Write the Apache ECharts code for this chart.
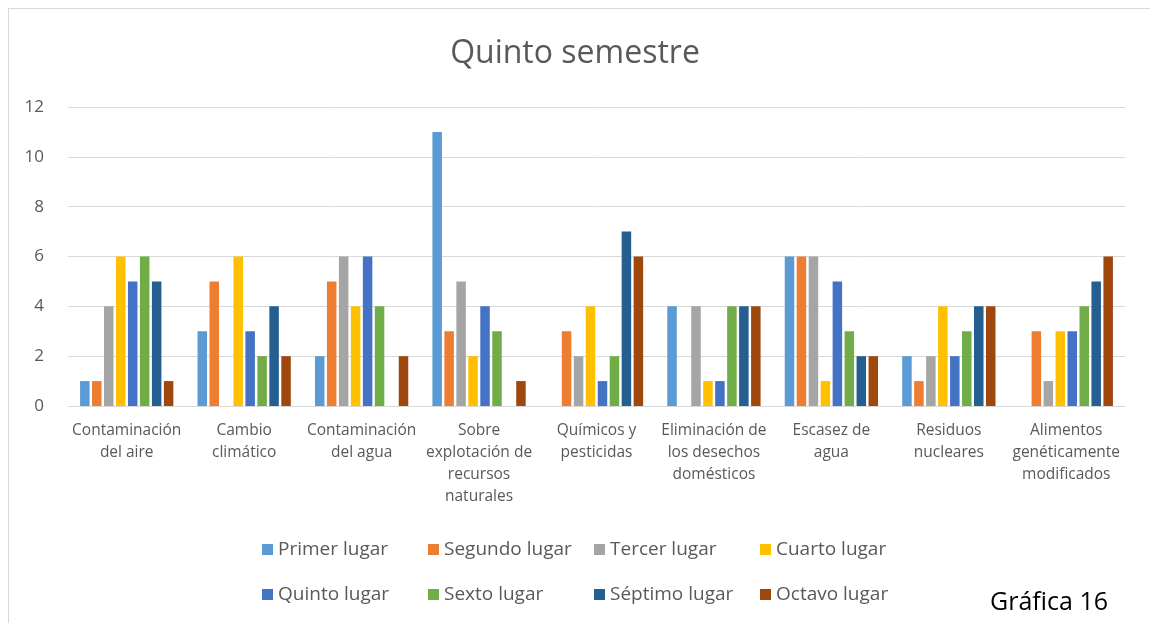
<!DOCTYPE html>
<html>
<head>
<meta charset="utf-8">
<script src="https://cdn.jsdelivr.net/npm/echarts@6/dist/echarts.min.js"></script>
<style>
  html, body { margin: 0; padding: 0; background: #fff; }
  #frame {
    position: absolute; left: 8px; top: 8px; width: 1142px; height: 615px;
    border-left: 1px solid #d9d9d9; border-top: 1px solid #d9d9d9;
  }
  #chart { position: absolute; left: 0; top: 0; width: 1150px; height: 623px; }
</style>
</head>
<body>
<div id="frame"></div>
<div id="chart"></div>
<script>
const categories = [
  'Contaminación\ndel aire',
  'Cambio\nclimático',
  'Contaminación\ndel agua',
  'Sobre\nexplotación de\nrecursos\nnaturales',
  'Químicos y\npesticidas',
  'Eliminación de\nlos desechos\ndomésticos',
  'Escasez de\nagua',
  'Residuos\nnucleares',
  'Alimentos\ngenéticamente\nmodificados'
]

const seriesNames = ['Primer lugar', 'Segundo lugar', 'Tercer lugar', 'Cuarto lugar',
  'Quinto lugar', 'Sexto lugar', 'Séptimo lugar', 'Octavo lugar']

const primerLugar = [1, 3, 2, 11, 0, 4, 6, 2, 0]
const segundoLugar = [1, 5, 5, 3, 3, 0, 6, 1, 3]
const tercerLugar = [4, 0, 6, 5, 2, 4, 6, 2, 1]
const cuartoLugar = [6, 6, 4, 2, 4, 1, 1, 4, 3]
const quintoLugar = [5, 3, 6, 4, 1, 1, 5, 2, 3]
const sextoLugar = [6, 2, 4, 3, 2, 4, 3, 3, 4]
const septimoLugar = [5, 4, 0, 0, 7, 4, 2, 4, 5]
const octavoLugar = [1, 2, 2, 1, 6, 4, 2, 4, 6]

const yTicks = { min: 0, max: 12, interval: 2 }

const colors = ['#5B9BD5', '#ED7D31', '#A5A5A5', '#FFC000', '#4472C4', '#70AD47', '#255E91', '#9E480E']
const values = [primerLugar, segundoLugar, tercerLugar, cuartoLugar, quintoLugar, sextoLugar, septimoLugar, octavoLugar]

const fontFamily = '"Open Sans", "Noto Sans", sans-serif'

const chart = echarts.init(document.getElementById('chart'))

// one legend per item so they sit on a 4-column grid like the original
const legends = seriesNames.map((name, i) => ({
  data: [name],
  left: 257 + (i % 4) * 166,
  top: i < 4 ? 535 : 580,
  itemWidth: 11,
  itemHeight: 11,
  icon: 'rect',
  textStyle: { color: '#595959', fontSize: 19, fontFamily }
}))

const option = {
  animation: false,
  color: colors,
  title: {
    text: 'Quinto semestre',
    left: 'center',
    top: 33,
    textStyle: { color: '#595959', fontSize: 32, fontWeight: 'normal', fontFamily }
  },
  legend: legends,
  graphic: [{
    type: 'text',
    right: 42,
    top: 590,
    style: { text: 'Gráfica 16', fill: '#000', fontSize: 25, fontFamily }
  }],
  grid: { left: 68, right: 25, top: 107, bottom: 217 },
  xAxis: {
    type: 'category',
    data: categories,
    axisTick: { show: false },
    axisLine: { lineStyle: { color: '#d9d9d9' } },
    axisLabel: { color: '#595959', fontSize: 15.5, fontFamily, lineHeight: 22, interval: 0, margin: 14 }
  },
  yAxis: {
    type: 'value',
    min: yTicks.min,
    max: yTicks.max,
    interval: yTicks.interval,
    axisLine: { show: false },
    axisTick: { show: false },
    axisLabel: { color: '#595959', fontSize: 17, fontFamily, margin: 24 },
    splitLine: { lineStyle: { color: '#d9d9d9', width: 1 } }
  },
  series: seriesNames.map((name, i) => ({
    name,
    type: 'bar',
    data: values[i],
    barWidth: 9.5,
    barGap: '26%',
    itemStyle: { color: colors[i] }
  }))
}

chart.setOption(option)
</script>
</body>
</html>
